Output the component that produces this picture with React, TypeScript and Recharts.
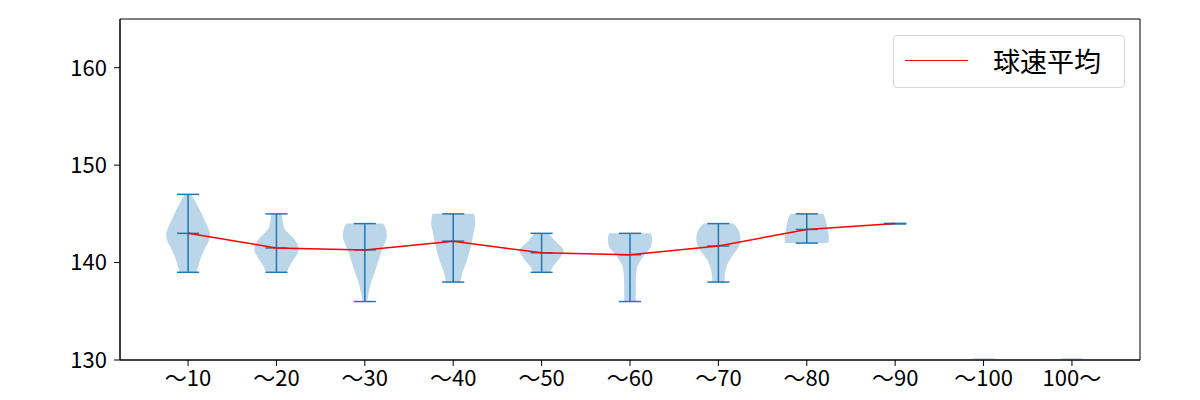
import React from 'react';
import { ComposedChart, Area, Line, XAxis, YAxis, ReferenceArea, Legend } from 'recharts';

const categories = ['～10', '～20', '～30', '～40', '～50', '～60', '～70', '～80', '～90', '～100', '100～'];
const maxValues = [147, 145, 144, 145, 143, 143, 144, 145, 144];
const minValues = [139, 139, 136, 138, 139, 136, 138, 142, 144];
const meanValues = [143.0, 141.5, 141.3, 142.2, 141.0, 140.8, 141.7, 143.4, 144.0];
const emptyCategoryMarks = [10, 11];
const yTicks = [130, 140, 150, 160];

// relative density profiles [value, density (max = 1)]
const density1: [number, number][] = [[139, 0.38], [139.3, 0.42], [140.3, 0.55], [141, 0.68], [141.7, 0.82], [142.3, 0.95], [142.9, 1], [143.6, 0.9], [144.4, 0.74], [145.1, 0.6], [145.8, 0.44], [146.5, 0.27], [147, 0.14]];
const density2: [number, number][] = [[139, 0.47], [139.45, 0.55], [140.3, 0.77], [140.8, 0.92], [141.3, 1], [141.7, 0.98], [142.1, 0.9], [142.5, 0.77], [143, 0.55], [143.4, 0.39], [144, 0.3], [144.5, 0.26], [145, 0.24]];
const density3: [number, number][] = [[136, 0.09], [136.5, 0.14], [137.5, 0.23], [138.2, 0.32], [139, 0.45], [140, 0.59], [141, 0.73], [142, 0.91], [142.7, 1], [143.5, 0.95], [144, 0.82]];
const density4: [number, number][] = [[138, 0.32], [138.9, 0.41], [140, 0.59], [141.2, 0.74], [142.2, 0.85], [143.1, 0.92], [144, 1], [144.5, 0.98], [145, 0.94]];
const density5: [number, number][] = [[139, 0.39], [139.45, 0.47], [139.9, 0.62], [140.3, 0.77], [140.8, 0.92], [141.2, 1], [141.6, 0.9], [142, 0.7], [142.5, 0.5], [143, 0.32]];
const density6: [number, number][] = [[136, 0.26], [137, 0.26], [138.2, 0.27], [139.2, 0.3], [139.6, 0.33], [140.1, 0.45], [140.65, 0.6], [141.1, 0.77], [141.5, 0.91], [142, 0.98], [142.4, 1], [143, 0.95]];
const density7: [number, number][] = [[138, 0.27], [139.1, 0.32], [140, 0.44], [140.8, 0.67], [141.5, 0.89], [142.4, 1], [143.4, 0.89], [144, 0.67]];
const density8: [number, number][] = [[142, 0.97], [142.5, 1], [143, 0.98], [143.5, 0.93], [144.2, 0.88], [144.6, 0.82], [145, 0.73]];
const densities = [density1, density2, density3, density4, density5, density6, density7, density8];

const X_MIN = 0.23;
const X_MAX = 11.77;
const Y_MIN = 130;
const Y_MAX = 165;
const BODY_HALF = 0.25;
const CAP_HALF = 0.125;
const BLUE = '#1f77b4';
const FONT = '"Noto Sans CJK JP", "Noto Sans", sans-serif';

const violinData = densities.map((prof, i) =>
  [...prof]
    .sort((a, b) => b[0] - a[0])
    .map(([v, d]) => ({ v, r: [i + 1 - d * BODY_HALF, i + 1 + d * BODY_HALF] }))
);

type Pt = { v: number; x: number };
const whiskerSegments: Pt[][] = [];
maxValues.forEach((mx, i) => {
  const p = i + 1;
  const mn = minValues[i];
  const me = meanValues[i];
  [mx, mn, me].forEach((val) => {
    whiskerSegments.push([
      { v: val, x: p - CAP_HALF },
      { v: val, x: p + CAP_HALF },
    ]);
  });
  if (mx !== mn) {
    whiskerSegments.push([
      { v: mx, x: p },
      { v: mn, x: p },
    ]);
  }
});

const faintSegments: Pt[][] = emptyCategoryMarks.map((p) => [
  { v: 130.15, x: p - CAP_HALF },
  { v: 130.15, x: p + CAP_HALF },
]);

const meanLineData = meanValues.map((m, i) => ({ v: m, x: i + 1 }));

const LegendBox = () => (
  <div
    style={{
      width: 232,
      height: 53,
      boxSizing: 'border-box',
      border: '1px solid #d6d6d6',
      borderRadius: 4,
      background: 'rgba(255,255,255,0.8)',
      position: 'relative',
      fontFamily: FONT,
    }}
  >
    <div style={{ position: 'absolute', left: 11, top: 24, width: 63, borderTop: '1.5px solid #ff0000' }} />
    <span style={{ position: 'absolute', left: 99, top: 5, fontSize: 27, lineHeight: '40px', color: '#000' }}>球速平均</span>
  </div>
);

export default function App() {
  return (
    <div style={{ width: 1184, height: 392 }}>
      <ComposedChart
        width={1184}
        height={392}
        layout="vertical"
        margin={{ top: 11, right: 52, bottom: 0, left: 0 }}
      >
        <XAxis
          type="number"
          domain={[X_MIN, X_MAX]}
          allowDataOverflow
          ticks={[1, 2, 3, 4, 5, 6, 7, 8, 9, 10, 11]}
          interval={0}
          tickFormatter={(t: number) => categories[Math.round(t) - 1] ?? ''}
          height={40}
          tickSize={6}
          tickMargin={4}
          stroke="#000"
          tick={{ fill: '#000', fontSize: 22, fontFamily: FONT }}
        />
        <YAxis
          type="number"
          dataKey="v"
          domain={[Y_MIN, Y_MAX]}
          allowDataOverflow
          reversed
          ticks={yTicks}
          interval={0}
          width={112}
          tickSize={6}
          tickMargin={7}
          stroke="#000"
          tick={{ fill: '#000', fontSize: 22, fontFamily: FONT }}
        />
        <ReferenceArea x1={X_MIN} x2={X_MAX} y1={Y_MIN} y2={Y_MAX} fill="none" stroke="#000" strokeWidth={1} />
        {violinData.map((d, i) => (
          <Area
            key={'v' + i}
            data={d}
            dataKey="r"
            type="monotone"
            stroke="none"
            fill={BLUE}
            fillOpacity={0.3}
            isAnimationActive={false}
            dot={false}
            activeDot={false}
          />
        ))}
        {faintSegments.map((d, i) => (
          <Line
            key={'f' + i}
            data={d}
            dataKey="x"
            stroke={BLUE}
            strokeOpacity={0.25}
            strokeWidth={1}
            dot={false}
            activeDot={false}
            isAnimationActive={false}
          />
        ))}
        {whiskerSegments.map((d, i) => (
          <Line
            key={'w' + i}
            data={d}
            dataKey="x"
            stroke={BLUE}
            strokeWidth={1.5}
            dot={false}
            activeDot={false}
            isAnimationActive={false}
          />
        ))}
        <Line
          data={meanLineData}
          dataKey="x"
          name="球速平均"
          stroke="#ff0000"
          strokeWidth={1.5}
          dot={false}
          activeDot={false}
          isAnimationActive={false}
        />
        <Legend
          layout="vertical"
          align="center"
          verticalAlign="middle"
          content={() => <LegendBox />}
          wrapperStyle={{ position: 'absolute', top: 27, left: 885, width: 232, height: 53 }}
        />
      </ComposedChart>
    </div>
  );
}
